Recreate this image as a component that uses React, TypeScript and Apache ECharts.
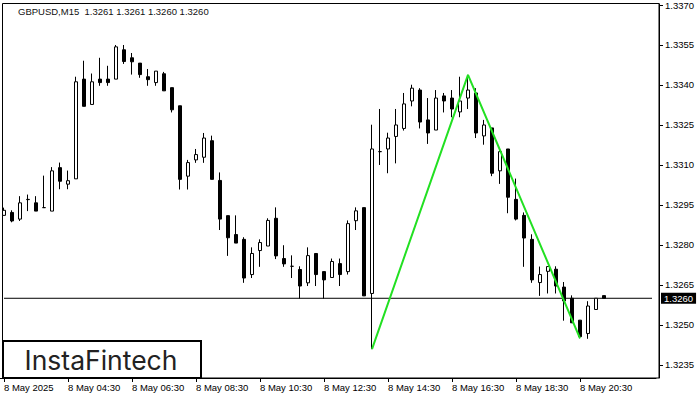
import React, { useEffect, useRef } from "react";
import * as echarts from "echarts";

// 15-minute candles, 8 May 2025, from 02:30
const opens = [
  1.32911, 1.32922, 1.32897, 1.32970, 1.32958, 1.32940, 1.32927, 1.33090, 1.33028, 1.33048,
  1.33422, 1.33327, 1.33422, 1.33422, 1.33422, 1.33532, 1.33502, 1.33482, 1.33431, 1.33409,
  1.33442, 1.33390, 1.33322, 1.33058, 1.33119, 1.33129, 1.33191, 1.33042, 1.32910, 1.32839,
  1.32821, 1.32689, 1.32779, 1.32796, 1.32900, 1.32749, 1.32720, 1.32708, 1.32658, 1.32768,
  1.32700, 1.32678, 1.32730, 1.32700, 1.32891, 1.32940, 1.32618, 1.33150, 1.33160, 1.33207,
  1.33237, 1.33340, 1.33381, 1.33269, 1.33231, 1.33359, 1.33351, 1.33299, 1.33351, 1.33370,
  1.33209, 1.33239, 1.33078, 1.33160, 1.32971, 1.32911, 1.32821, 1.32659, 1.32701, 1.32709,
  1.32642, 1.32600, 1.32518, 1.32468, 1.32558, 1.32610,
];
const closes = [
  1.32930, 1.32890, 1.32958, 1.32971, 1.32927, 1.32940, 1.33078, 1.33039, 1.33041, 1.33412,
  1.33320, 1.33412, 1.33409, 1.33409, 1.33543, 1.33488, 1.33487, 1.33439, 1.33420, 1.33452,
  1.33378, 1.33307, 1.33046, 1.33109, 1.33139, 1.33201, 1.33046, 1.32897, 1.32827, 1.32807,
  1.32676, 1.32768, 1.32809, 1.32892, 1.32759, 1.32729, 1.32720, 1.32646, 1.32760, 1.32689,
  1.32669, 1.32738, 1.32689, 1.32880, 1.32928, 1.32609, 1.33160, 1.33150, 1.33201, 1.33250,
  1.33329, 1.33388, 1.33261, 1.33220, 1.33351, 1.33340, 1.33310, 1.33340, 1.33381, 1.33220,
  1.33250, 1.33069, 1.33150, 1.32979, 1.32897, 1.32826, 1.32669, 1.32689, 1.32719, 1.32646,
  1.32590, 1.32508, 1.32456, 1.32571, 1.32600, 1.32600,
];
const lows = [
  1.32911, 1.32885, 1.32890, 1.32927, 1.32927, 1.32940, 1.32927, 1.33009, 1.33009, 1.33048,
  1.33320, 1.33327, 1.33397, 1.33397, 1.33422, 1.33479, 1.33439, 1.33427, 1.33397, 1.33397,
  1.33378, 1.33297, 1.33008, 1.33008, 1.33108, 1.33108, 1.33046, 1.32856, 1.32759, 1.32807,
  1.32658, 1.32676, 1.32718, 1.32796, 1.32747, 1.32718, 1.32676, 1.32599, 1.32646, 1.32646,
  1.32599, 1.32678, 1.32646, 1.32689, 1.32856, 1.32609, 1.32409, 1.33100, 1.33069, 1.33106,
  1.33229, 1.33320, 1.33237, 1.33179, 1.33231, 1.33297, 1.33279, 1.33279, 1.33310, 1.33201,
  1.33176, 1.33058, 1.33029, 1.32919, 1.32892, 1.32718, 1.32658, 1.32609, 1.32618, 1.32618,
  1.32516, 1.32508, 1.32450, 1.32448, 1.32558, 1.32600,
];
const highs = [
  1.32940, 1.32930, 1.32983, 1.32989, 1.32983, 1.33060, 1.33092, 1.33109, 1.33079, 1.33431,
  1.33491, 1.33443, 1.33502, 1.33472, 1.33550, 1.33550, 1.33520, 1.33482, 1.33460, 1.33452,
  1.33449, 1.33390, 1.33322, 1.33119, 1.33160, 1.33220, 1.33210, 1.33072, 1.32910, 1.32911,
  1.32829, 1.32791, 1.32821, 1.32900, 1.32941, 1.32799, 1.32761, 1.32720, 1.32791, 1.32768,
  1.32700, 1.32749, 1.32749, 1.32892, 1.32941, 1.32940, 1.33251, 1.33310, 1.33221, 1.33310,
  1.33370, 1.33401, 1.33388, 1.33351, 1.33381, 1.33370, 1.33381, 1.33431, 1.33438, 1.33388,
  1.33269, 1.33239, 1.33160, 1.33160, 1.33049, 1.32922, 1.32840, 1.32719, 1.32719, 1.32720,
  1.32661, 1.32611, 1.32518, 1.32589, 1.32600, 1.32610,
];

// pattern (green) points: candle index and price
const patternIdx = [46, 58, 72];
const patternVal = [1.32409, 1.33438, 1.32450];

const currentPrice = 1.326;
const yTickValues = [1.3235, 1.325, 1.3265, 1.328, 1.3295, 1.331, 1.3325, 1.334, 1.3355, 1.337];
const xTickLabels = [
  "8 May 2025", "8 May 04:30", "8 May 06:30", "8 May 08:30", "8 May 10:30",
  "8 May 12:30", "8 May 14:30", "8 May 16:30", "8 May 18:30", "8 May 20:30",
];
const xTickStep = 8;
const emptySlots = 6;
const titleText = "GBPUSD,M15  1.3261 1.3261 1.3260 1.3260";

const FONT = "'Liberation Sans', Arial, sans-serif";

export default function App() {
  const ref = useRef<HTMLDivElement>(null);
  useEffect(() => {
    if (!ref.current) return;
    const chart = echarts.init(ref.current, undefined, { renderer: "svg" });
    const n = opens.length + emptySlots;
    const categories: string[] = [];
    for (let i = 0; i < n; i++) {
      const m = 150 + i * 15;
      const hh = String(Math.floor(m / 60) % 24).padStart(2, "0");
      const mm = String(m % 60).padStart(2, "0");
      categories.push(`${hh}:${mm}`);
    }
    const candleData = opens.map((o, i) => [o, closes[i], lows[i], highs[i]]);
    const lineData: (number | null)[] = categories.map(() => null);
    patternIdx.forEach((idx, k) => (lineData[idx] = patternVal[k]));
    // current price line: from first slot to last slot
    const priceLine: (number | null)[] = categories.map(() => null);
    priceLine[0] = currentPrice;
    priceLine[n - 1] = currentPrice;
    const showTick = (index: number) =>
      index % xTickStep === 0 && index / xTickStep < xTickLabels.length;

    chart.setOption({
      animation: false,
      grid: { left: 0, right: 44, top: 3, bottom: 22 },
      xAxis: {
        type: "category",
        data: categories,
        boundaryGap: true,
        axisLine: { show: true, lineStyle: { color: "#000", width: 1 } },
        axisTick: {
          show: true,
          alignWithLabel: true,
          interval: (i: number) => showTick(i),
          length: 4,
          lineStyle: { color: "#000" },
        },
        axisLabel: {
          interval: (i: number) => showTick(i),
          formatter: (_v: string, i: number) =>
            showTick(i) ? xTickLabels[i / xTickStep] : "",
          align: "left",
          color: "#000",
          fontFamily: FONT,
          fontSize: 9.5,
          margin: 4,
        },
        splitLine: { show: false },
      },
      yAxis: {
        type: "value",
        position: "right",
        min: 1.32301,
        max: 1.33704,
        offset: 3,
        axisLine: { show: true, lineStyle: { color: "#000" } },
        axisTick: {
          show: true,
          customValues: yTickValues,
          length: 4,
          lineStyle: { color: "#000" },
        },
        axisLabel: {
          customValues: yTickValues,
          formatter: (v: number) => v.toFixed(4),
          color: "#000",
          fontFamily: FONT,
          fontSize: 9.5,
          margin: 6,
        },
        splitLine: { show: false },
      },
      series: [
        {
          type: "line",
          data: priceLine,
          connectNulls: true,
          symbol: "none",
          lineStyle: { color: "#000", width: 1 },
          z: 1,
          endLabel: {
            show: true,
            formatter: () => currentPrice.toFixed(4),
            distance: 9,
            color: "#fff",
            backgroundColor: "#000",
            padding: [1, 3, 0, 3],
            fontFamily: FONT,
            fontSize: 9.5,
            lineHeight: 10,
          },
        },
        {
          type: "candlestick",
          data: candleData,
          barWidth: 4,
          z: 3,
          itemStyle: {
            color: "#fff",
            color0: "#000",
            borderColor: "#000",
            borderColor0: "#000",
            borderWidth: 1,
          },
        },
        {
          type: "line",
          data: lineData,
          connectNulls: true,
          symbol: "none",
          lineStyle: { color: "#22e022", width: 2 },
          z: 5,
        },
      ],
      graphic: [
        {
          type: "rect",
          shape: { x: 2.5, y: 3.5, width: 656.5, height: 374.5 },
          style: { fill: "none", stroke: "#000", lineWidth: 1 },
          silent: true,
          z: 1,
        },
        {
          type: "text",
          x: 18,
          y: 11,
          style: {
            text: titleText,
            fill: "#111",
            font: `9.5px ${FONT}`,
            textVerticalAlign: "middle",
          },
          z: 10,
        },
        {
          type: "rect",
          shape: { x: 3, y: 341, width: 198, height: 37 },
          style: { fill: "#fff", stroke: "#000", lineWidth: 2 },
          z: 10,
        },
        {
          type: "text",
          x: 101,
          y: 360,
          style: {
            text: "InstaFintech",
            fill: "#222",
            font: "400 26.5px Inter, 'Noto Sans', sans-serif",
            textAlign: "center",
            textVerticalAlign: "middle",
          },
          z: 11,
        },
      ],
    });
    return () => chart.dispose();
  }, []);
  return (
    <div
      ref={ref}
      style={{ position: "fixed", left: 0, top: 0, width: 700, height: 400, background: "#fff" }}
    />
  );
}
